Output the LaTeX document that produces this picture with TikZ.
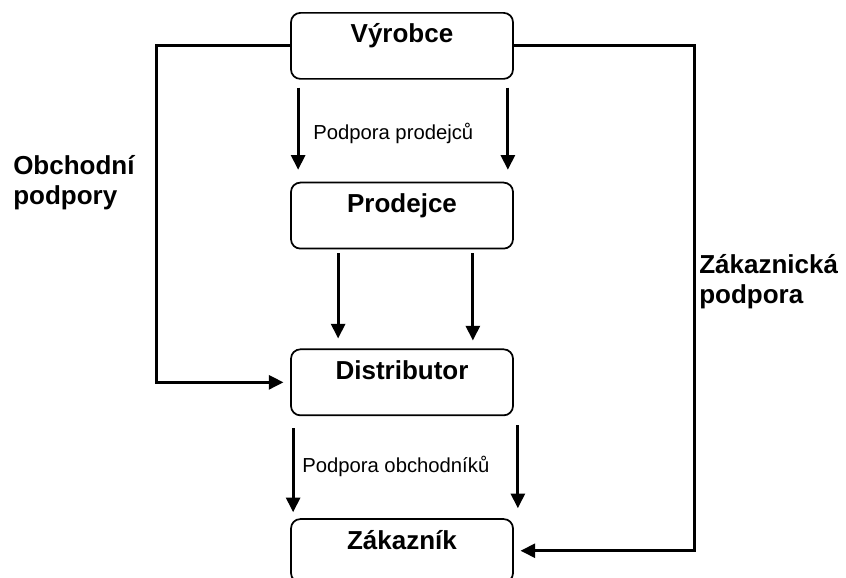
\documentclass[tikz,border=0pt]{standalone}
\usepackage{fontspec}
\setmainfont{Liberation Sans}
\usepackage{tikz}
\usetikzlibrary{positioning,arrows.meta}

\begin{document}
\begin{tikzpicture}[x=0.75pt,y=-0.75pt,
  box/.style={draw,line width=1.3pt,rounded corners=7pt,inner sep=0pt,
    minimum width=166.5pt,text height=22.5pt,text depth=27pt,
    font=\fontsize{19.5}{22.5}\selectfont\bfseries},
  arr/.style={line width=2.2pt,-{Triangle[width=10.5pt,length=11pt]}},
  small/.style={inner sep=0pt,font=\fontsize{15.2}{18}\selectfont},
  side/.style={inner sep=0pt,align=left,font=\fontsize{19.5}{22.5}\selectfont\bfseries}]
\useasboundingbox (0,0) rectangle (846,578);

\node [box,anchor=north] (vyrobce) at (402,12) {Výrobce};
\node [box,below=76.5pt of vyrobce] (prodejce) {Prodejce};
\node [box,below=74.25pt of prodejce] (distributor) {Distributor};
\node [box,text depth=25pt,below=76.5pt of distributor] (zakaznik) {Zákazník};

% svisle sipky
\draw[arr] ([xshift=6pt,yshift=-6pt]vyrobce.south west) -- ([xshift=6pt,yshift=9pt]prodejce.north west);
\draw[arr] ([xshift=-4.5pt,yshift=-6pt]vyrobce.south east) -- ([xshift=-4.5pt,yshift=9pt]prodejce.north east);
\draw[arr] ([xshift=36pt,yshift=-3pt]prodejce.south west) -- ([xshift=36pt,yshift=7.5pt]distributor.north west);
\draw[arr] ([xshift=-30.75pt,yshift=-3pt]prodejce.south east) -- ([xshift=-30.75pt,yshift=6pt]distributor.north east);
\draw[arr] ([xshift=2.25pt,yshift=-9pt]distributor.south west) -- ([xshift=2.25pt,yshift=4.5pt]zakaznik.north west);
\draw[arr] ([xshift=3pt,yshift=-6.75pt]distributor.south east) -- ([xshift=3pt,yshift=7.5pt]zakaznik.north east);

% boky
\draw[arr] (vyrobce.west) -- ++(-134,0) |- ([xshift=-5pt]distributor.west);
\draw[arr] (vyrobce.east) -- ++(181,0) |- ([xshift=5pt]zakaznik.east);

\node [small,anchor=base west] (podprod) at (313,139) {Podpora prodejců};
\node [small,anchor=base west] (podobch) at (302,472) {Podpora obchodníků};
\node [side,anchor=north west] (obchodni) at (13,155) {Obchodní\\podpory};
\node [side,anchor=north west] (zakaznicka) at (699,254) {Zákaznická\\podpora};

\end{tikzpicture}
\end{document}
